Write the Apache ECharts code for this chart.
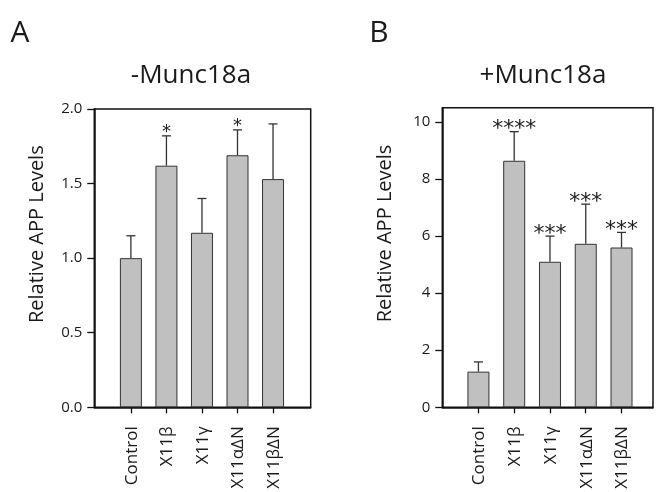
<!DOCTYPE html>
<html>
<head>
<meta charset="utf-8">
<script src="https://cdn.jsdelivr.net/npm/echarts@6/dist/echarts.min.js"></script>
<style>
html,body{margin:0;padding:0;background:#fff;}
#c{width:658px;height:492px;}
</style>
</head>
<body>
<div id="c"></div>
<script>
// ---- data ----
const categories = ['Control', 'X11β', 'X11γ', 'X11αΔN', 'X11βΔN'];
const valuesA = [1.00, 1.62, 1.17, 1.69, 1.53];
const errTopA = [1.15, 1.82, 1.40, 1.86, 1.90];
const starsA  = ['', '*', '', '*', ''];
const valuesB = [1.25, 8.64, 5.10, 5.73, 5.60];
const errTopB = [1.59, 9.66, 6.00, 7.12, 6.13];
const starsB  = ['', '****', '***', '***', '***'];
const yTicksA = [0, 0.5, 1.0, 1.5, 2.0];
const yTicksB = [0, 2, 4, 6, 8, 10];
const panelTitles = ['-Munc18a', '+Munc18a'];
const panelLetters = ['A', 'B'];
const yName = 'Relative APP Levels';

const FONT = '"Open Sans", "Noto Sans", sans-serif';
const TXT = '#1a1a1a';
const idx = categories.map((_, i) => i);

function errSeries(gridIdx, vals, tops, stars, starSize, starOff) {
  return {
    type: 'custom',
    xAxisIndex: gridIdx, yAxisIndex: gridIdx,
    z: 5,
    data: idx.map(i => [i, vals[i], tops[i]]),
    encode: { x: 0, y: [1, 2] },
    renderItem: function (params, api) {
      const x = api.value(0), v = api.value(1), e = api.value(2);
      const b = api.coord([x, v]);
      const t = api.coord([x, e]);
      const st = { stroke: '#333', lineWidth: 1.3 };
      return {
        type: 'group',
        children: [
          { type: 'line', shape: { x1: b[0], y1: b[1], x2: t[0], y2: t[1] }, style: st },
          { type: 'line', shape: { x1: t[0] - 4.5, y1: t[1], x2: t[0] + 4.5, y2: t[1] }, style: st },
          { type: 'text', x: t[0], y: t[1] - starOff,
            style: { text: stars[params.dataIndex], align: 'center', verticalAlign: 'middle',
                     font: starSize + 'px "DejaVu Sans", sans-serif', fill: '#222' } }
        ]
      };
    }
  };
}

// category labels under each tick, placed through the axis scale
function catLabelSeries(gridIdx) {
  return {
    type: 'custom',
    xAxisIndex: gridIdx, yAxisIndex: gridIdx,
    z: 6, clip: false, silent: true,
    data: idx.map(i => [i, 0]),
    encode: { x: 0, y: 1 },
    renderItem: function (params, api) {
      const p = api.coord([api.value(0), api.value(1)]);
      return {
        type: 'text', x: p[0] + 1, y: p[1] + 19, rotation: Math.PI / 2,
        style: { text: categories[params.dataIndex], align: 'right', verticalAlign: 'middle',
                 font: '17px ' + FONT, fill: TXT }
      };
    }
  };
}

function xAx(gridIdx, min, max) {
  return {
    type: 'value', gridIndex: gridIdx, min: min, max: max,
    splitLine: { show: false },
    axisLine: { show: true, onZero: false, lineStyle: { color: '#111', width: 1.5 } },
    axisTick: { show: true, length: 6, customValues: idx, lineStyle: { color: '#111', width: 1.3 } },
    axisLabel: { show: false }
  };
}

function yAx(gridIdx, max, ticks, fmt) {
  return {
    type: 'value', gridIndex: gridIdx, min: 0, max: max,
    splitLine: { show: false },
    axisLine: { show: true, onZero: false, lineStyle: { color: '#111', width: 1.5 } },
    axisTick: { show: true, length: 7, customValues: ticks, lineStyle: { color: '#111', width: 1.3 } },
    axisLabel: { customValues: ticks, formatter: fmt, margin: 12,
                 fontFamily: FONT, fontSize: 15, color: TXT },
    name: yName, nameLocation: 'middle', nameRotate: 90, nameGap: 47,
    nameTextStyle: { fontFamily: FONT, fontSize: 20, color: TXT, padding: [0, 0, 0, 48] }
  };
}

const chart = echarts.init(document.getElementById('c'), null, { renderer: 'canvas' });
chart.setOption({
  animation: false,
  backgroundColor: '#fff',
  grid: [
    { left: 94.3, top: 109, right: 347.3, bottom: 84.7, containLabel: false, outerBoundsMode: 'none',
      show: true, borderColor: '#111', borderWidth: 1.5 },
    { left: 442.3, top: 107.7, right: 5, bottom: 84.7, containLabel: false, outerBoundsMode: 'none',
      show: true, borderColor: '#111', borderWidth: 1.5 }
  ],
  xAxis: [xAx(0, -1.03, 5.06), xAx(1, -1.01, 4.88)],
  yAxis: [
    yAx(0, 2.0, yTicksA, v => v.toFixed(1)),
    yAx(1, 10.5, yTicksB, v => String(v))
  ],
  series: [
    { type: 'bar', xAxisIndex: 0, yAxisIndex: 0, barWidth: 22,
      data: idx.map(i => [i, valuesA[i]]),
      itemStyle: { color: '#c0c0c0', borderColor: '#333', borderWidth: 1 } },
    { type: 'bar', xAxisIndex: 1, yAxisIndex: 1, barWidth: 22,
      data: idx.map(i => [i, valuesB[i]]),
      itemStyle: { color: '#c0c0c0', borderColor: '#333', borderWidth: 1 } },
    errSeries(0, valuesA, errTopA, starsA, 18, 4),
    errSeries(1, valuesB, errTopB, starsB, 22, 2),
    catLabelSeries(0),
    catLabelSeries(1)
  ],
  graphic: [
    { type: 'text', x: 20, y: 33, style: { text: panelLetters[0], align: 'center', verticalAlign: 'middle', font: '30px ' + FONT, fill: TXT } },
    { type: 'text', x: 379, y: 33, style: { text: panelLetters[1], align: 'center', verticalAlign: 'middle', font: '30px ' + FONT, fill: TXT } },
    { type: 'text', x: 191, y: 76, style: { text: panelTitles[0], align: 'center', verticalAlign: 'middle', font: '26px ' + FONT, fill: TXT } },
    { type: 'text', x: 543, y: 76, style: { text: panelTitles[1], align: 'center', verticalAlign: 'middle', font: '26px ' + FONT, fill: TXT } }
  ]
});
</script>
</body>
</html>
